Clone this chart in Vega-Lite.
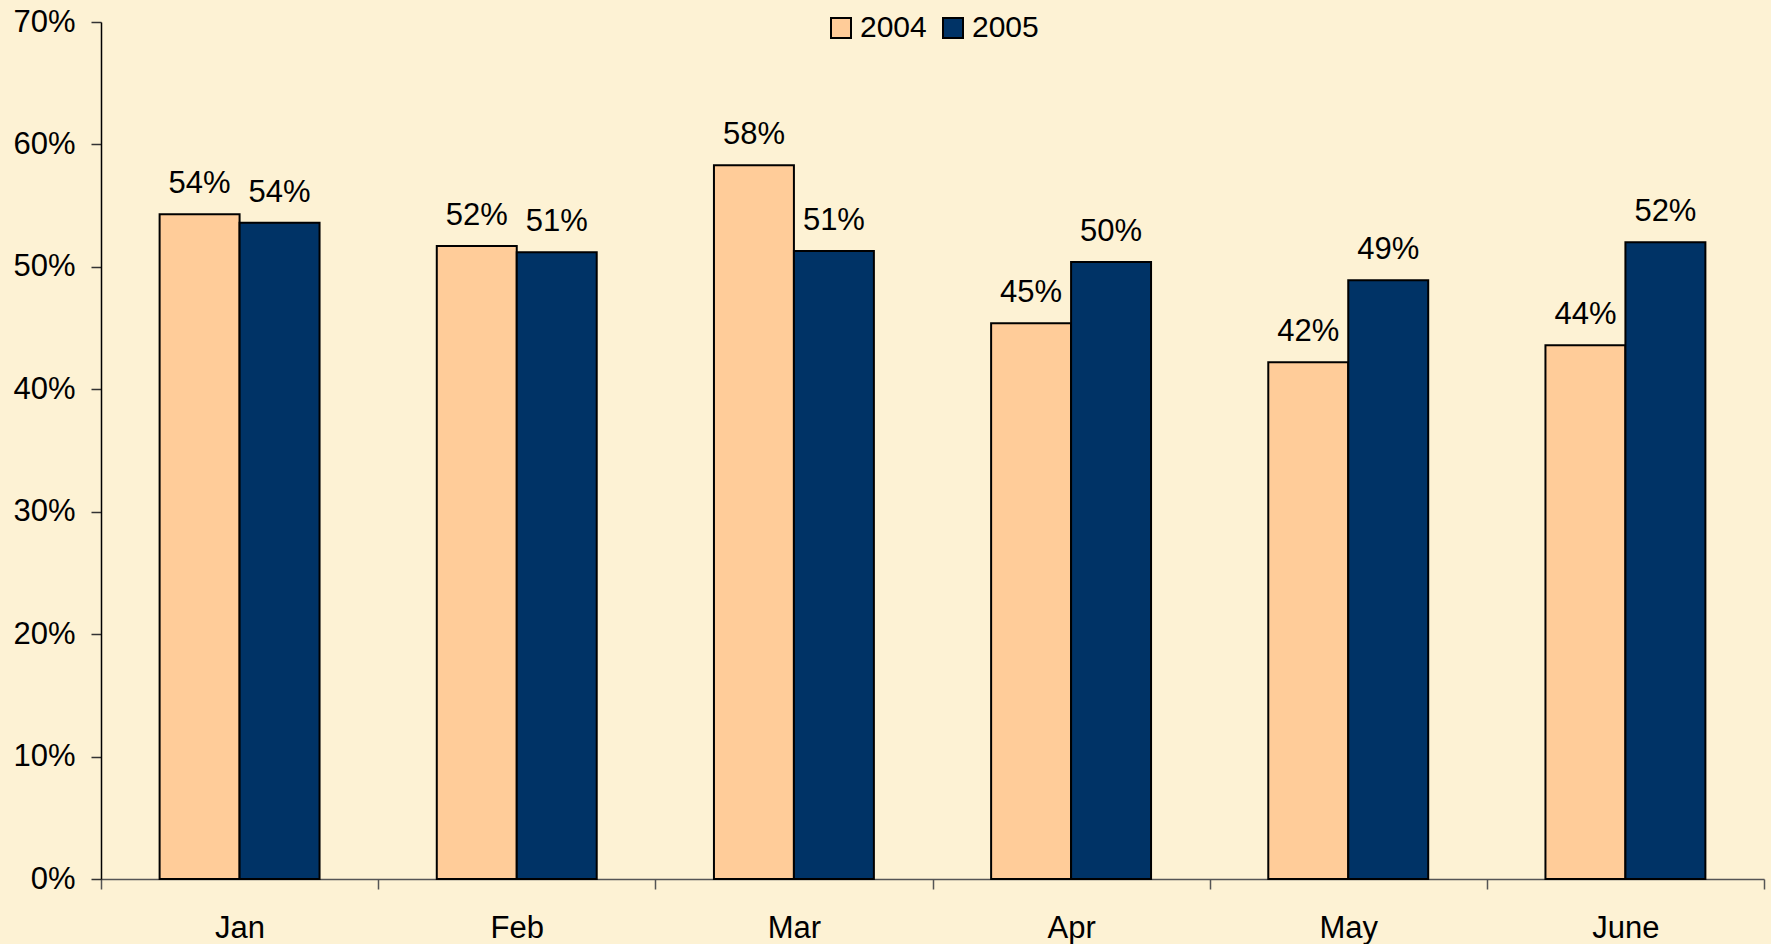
{
  "$schema": "https://vega.github.io/schema/vega-lite/v6.json",
  "width": 1663,
  "height": 857,
  "autosize": {"type": "none"},
  "padding": {"left": 101, "top": 22, "right": 7, "bottom": 65},
  "background": "#FDF2D4",
  "config": {
    "view": {"stroke": null},
    "font": "Liberation Sans",
    "axis": {"grid": false, "labelFont": "Liberation Sans", "labelFontSize": 31, "labelColor": "#000", "titleFontSize": 0},
    "legend": {"labelFont": "Liberation Sans"}
  },
  "data": {
    "values": [
      {"month": "Jan", "year": "2004", "value": 0.543},
      {"month": "Jan", "year": "2005", "value": 0.536},
      {"month": "Feb", "year": "2004", "value": 0.517},
      {"month": "Feb", "year": "2005", "value": 0.512},
      {"month": "Mar", "year": "2004", "value": 0.583},
      {"month": "Mar", "year": "2005", "value": 0.513},
      {"month": "Apr", "year": "2004", "value": 0.454},
      {"month": "Apr", "year": "2005", "value": 0.504},
      {"month": "May", "year": "2004", "value": 0.422},
      {"month": "May", "year": "2005", "value": 0.489},
      {"month": "June", "year": "2004", "value": 0.436},
      {"month": "June", "year": "2005", "value": 0.520}
    ]
  },
  "encoding": {
    "x": {
      "field": "month", "type": "nominal", "sort": null,
      "scale": {"paddingInner": 0, "paddingOuter": 0},
      "axis": {"title": null, "labelAngle": 0, "tickBand": "extent", "tickSize": 10, "tickColor": "#555", "domainColor": "#555", "domainWidth": 1.5, "tickWidth": 1.5, "labelBaseline": "alphabetic", "labelPadding": 48}
    },
    "xOffset": {"field": "year", "type": "nominal", "scale": {"paddingInner": 0, "paddingOuter": 0.733}},
    "y": {
      "field": "value", "type": "quantitative",
      "scale": {"domain": [0, 0.7], "nice": false},
      "axis": {"title": null, "format": ".0%", "values": [0, 0.1, 0.2, 0.3, 0.4, 0.5, 0.6, 0.7], "tickSize": 10, "tickColor": "#333", "domainColor": "#000", "domainWidth": 1.5, "tickWidth": 1.5, "labelPadding": 16}
    }
  },
  "layer": [
    {
      "mark": {"type": "bar", "stroke": "#000", "strokeWidth": 2},
      "encoding": {
        "fill": {
          "field": "year", "type": "nominal",
          "scale": {"domain": ["2004", "2005"], "range": ["#FFCC99", "#003366"]},
          "legend": {
            "title": null, "orient": "none", "direction": "horizontal",
            "legendX": 725, "legendY": -9,
            "symbolType": "square", "symbolSize": 400, "symbolStrokeColor": "#000", "symbolStrokeWidth": 2,
            "labelFontSize": 30, "labelColor": "#000", "labelOffset": 4, "columnPadding": 11, "padding": 0
          }
        }
      }
    },
    {
      "mark": {"type": "text", "baseline": "alphabetic", "dy": -21, "fontSize": 31, "color": "#000"},
      "encoding": {
        "text": {"field": "value", "type": "quantitative", "format": ".0%"}
      }
    }
  ]
}
